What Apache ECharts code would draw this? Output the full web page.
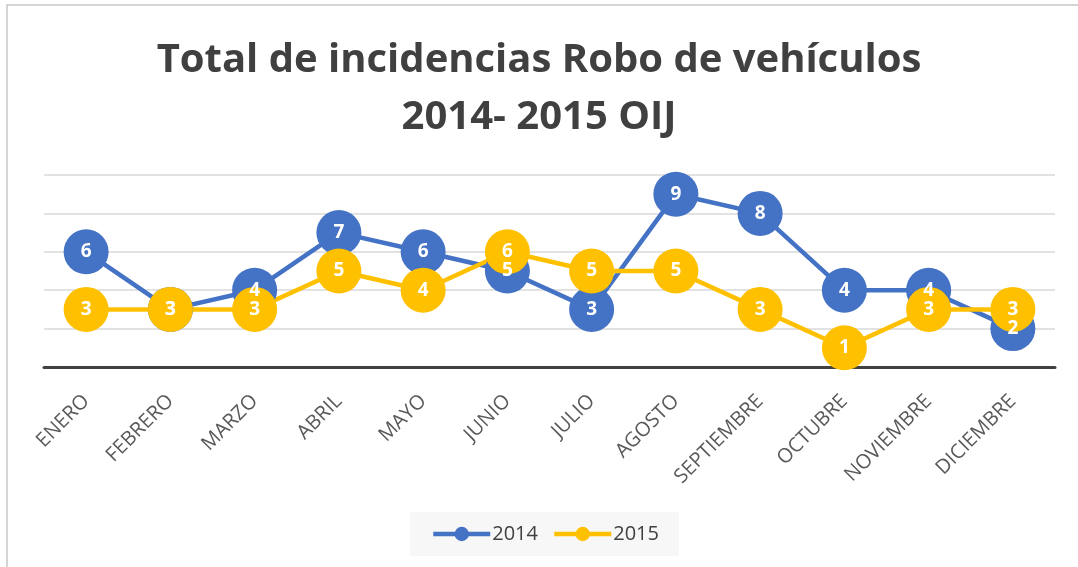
<!DOCTYPE html>
<html>
<head>
<meta charset="utf-8">
<script src="https://cdn.jsdelivr.net/npm/echarts@6/dist/echarts.min.js"></script>
<style>
  html, body { margin: 0; padding: 0; background: #fff; }
  #chart { width: 1078px; height: 567px; }
</style>
</head>
<body>
<div id="chart"></div>
<script>
  // meses
  var months = ['ENERO', 'FEBRERO', 'MARZO', 'ABRIL', 'MAYO', 'JUNIO', 'JULIO',
                'AGOSTO', 'SEPTIEMBRE', 'OCTUBRE', 'NOVIEMBRE', 'DICIEMBRE'];
  var data2014 = [6, 3, 4, 7, 6, 5, 3, 9, 8, 4, 4, 2];
  var data2015 = [3, 3, 3, 5, 4, 6, 5, 5, 3, 1, 3, 3];

  var myChart = echarts.init(document.getElementById('chart'));

  function serie(name, color, values) {
    return {
      name: name,
      type: 'line',
      data: values,
      symbol: 'circle',
      symbolSize: 45,
      lineStyle: { color: color, width: 4.5 },
      itemStyle: { color: color },
      label: {
        show: true,
        position: 'inside',
        color: '#fff',
        fontWeight: 'bold',
        fontSize: 19,
        fontFamily: 'Open Sans'
      },
      emphasis: { disabled: true }
    };
  }

  var option = {
    animation: false,
    textStyle: { fontFamily: 'Open Sans' },
    title: {
      text: 'Total de incidencias Robo de vehículos\n2014- 2015 OIJ',
      left: 'center',
      top: 27,
      textStyle: {
        fontSize: 40,
        fontWeight: 'bold',
        color: '#404040',
        lineHeight: 57,
        fontFamily: 'Open Sans'
      }
    },
    graphic: [{
      type: 'rect',
      shape: { x: 7, y: 5, width: 1080, height: 580 },
      style: { fill: 'none', stroke: '#c8c8c8', lineWidth: 1.5 },
      silent: true
    }],
    legend: {
      left: 410,
      top: 512,
      width: 231,
      padding: [12, 20, 12, 21],
      backgroundColor: '#f7f7f7',
      itemWidth: 57,
      itemHeight: 18,
      itemGap: 14,
      lineStyle: { width: 4.5 },
      textStyle: { fontSize: 20, color: '#404040', fontFamily: 'Open Sans', padding: [0, 0, 0, -3] },
      data: ['2014', '2015']
    },
    grid: { left: 44, right: 23, top: 175, bottom: 200 },
    xAxis: {
      type: 'category',
      data: months,
      axisLine: { lineStyle: { color: '#404040', width: 3 } },
      axisTick: { show: false },
      axisLabel: {
        rotate: 45,
        interval: 0,
        margin: 31,
        fontSize: 20,
        color: '#595959',
        fontFamily: 'Open Sans'
      }
    },
    yAxis: {
      type: 'value',
      min: 0,
      max: 10,
      interval: 2,
      axisLabel: { show: false },
      axisLine: { show: false },
      axisTick: { show: false },
      splitLine: { lineStyle: { color: '#d9d9d9', width: 1.5 } }
    },
    series: [
      serie('2014', '#4472C4', data2014),
      serie('2015', '#FFC000', data2015)
    ]
  };

  myChart.setOption(option);
</script>
</body>
</html>
